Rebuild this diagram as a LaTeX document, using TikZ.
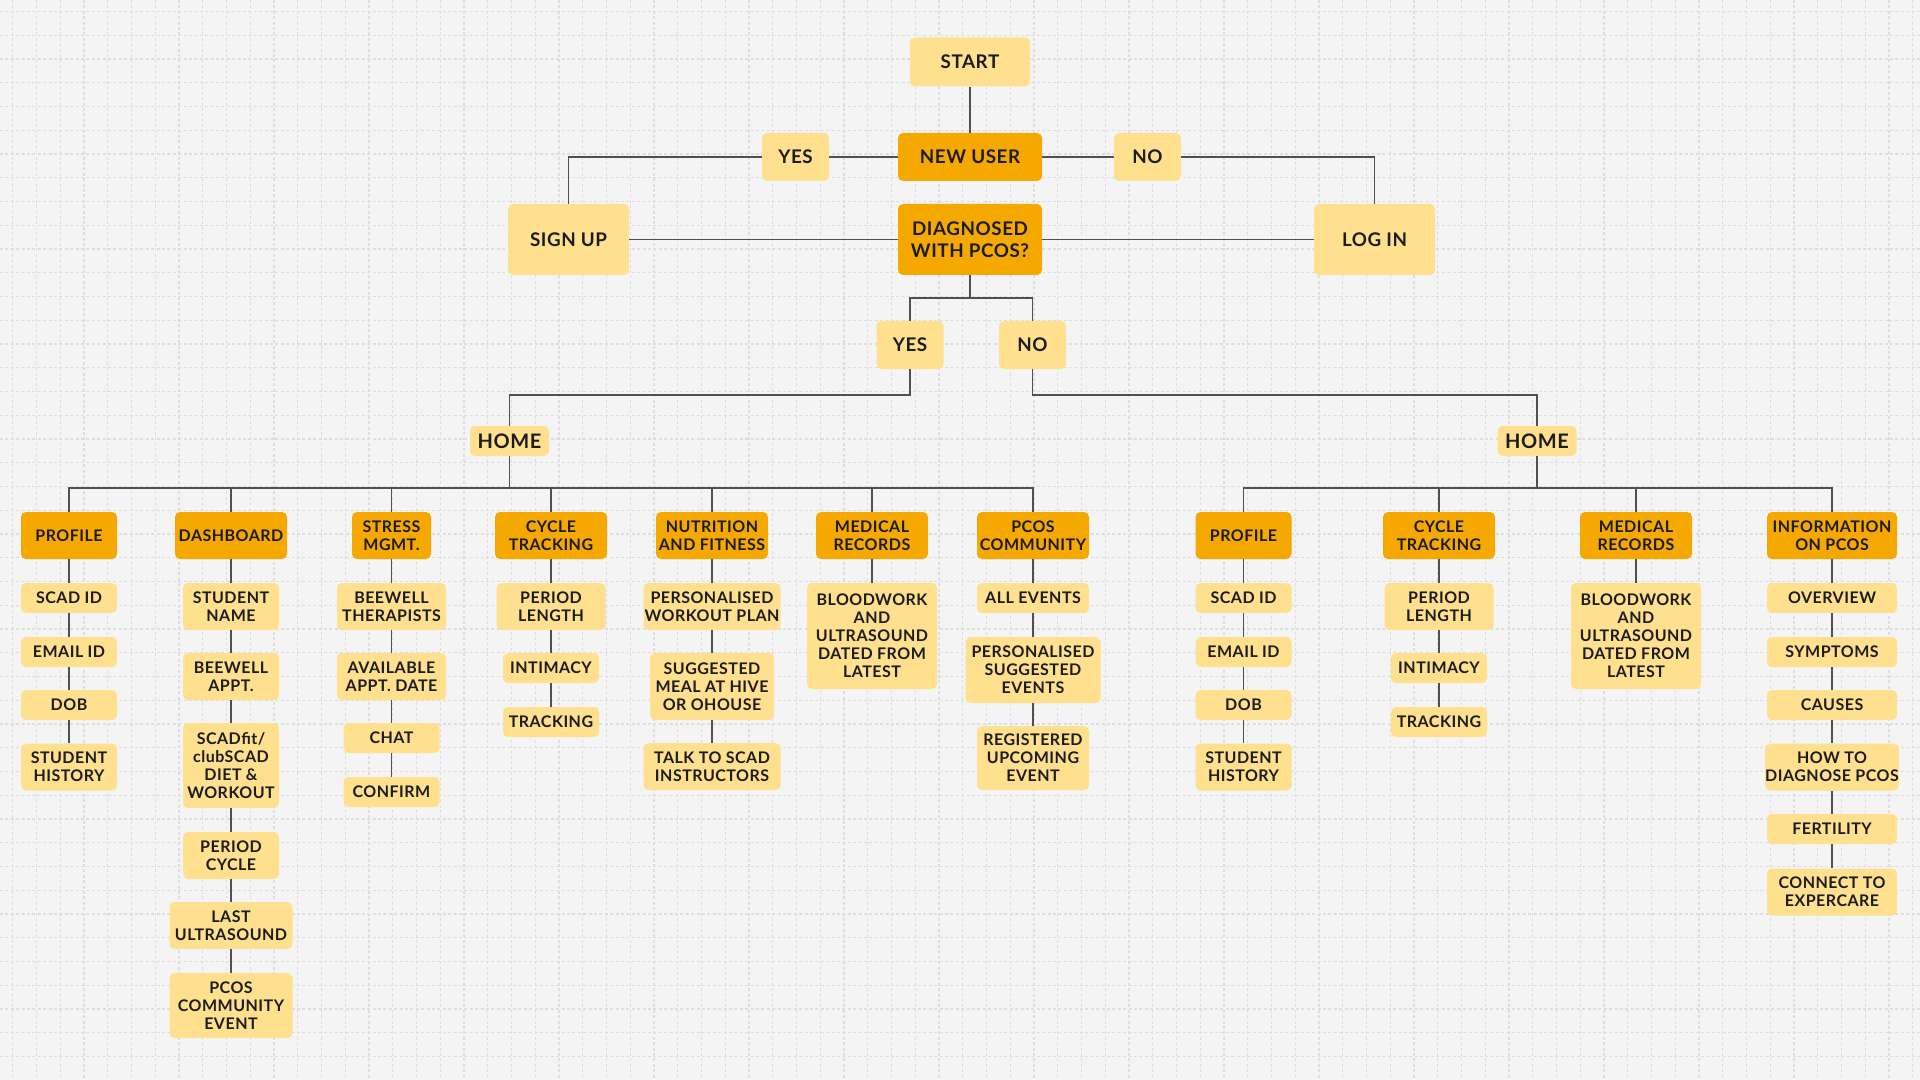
\documentclass[tikz,border=0pt]{standalone}
\usepackage{fontspec}
\setmainfont{Lato}[LetterSpace=3]
\definecolor{bgc}{RGB}{244,244,244}
\definecolor{gridc}{RGB}{222,222,222}
\definecolor{dkor}{RGB}{245,168,0}
\definecolor{ltye}{RGB}{255,224,142}
\definecolor{linec}{RGB}{80,80,80}
\definecolor{txt}{RGB}{28,28,28}
\tikzset{
  box/.style={rounded corners=2.5pt, inner sep=0pt, align=center, text=txt,
    font=\bfseries\fontsize{8}{9}\selectfont},
  dk/.style={box, fill=dkor},
  lt/.style={box, fill=ltye},
  big/.style={font=\bfseries\fontsize{9.4}{11}\selectfont},
  home/.style={font=\bfseries\fontsize{10}{11}\selectfont},
  w/.style={minimum width=#1*0.5pt},
  h/.style={minimum height=#1*0.5pt},
  conn/.style={draw=linec, line width=0.75pt},
  gridline/.style={draw=gridc, line width=0.6pt, dash pattern=on 1.5pt off 1.2pt}
}
\begin{document}
\begin{tikzpicture}[x=0.5pt,y=-0.5pt]
\fill[bgc] (0,0) rectangle (1920,1080);
\useasboundingbox (0,0) rectangle (1920,1080);
\foreach \i in {0,...,80} {\draw[gridline] ({12.75+23.75*\i},0) -- ++(0,1080);}
\foreach \i in {0,...,45} {\draw[gridline] (0,{11.45+23.75*\i}) -- ++(1920,0);}

% top
\node[lt,big,w=120,h=49] (start) at (970,62) {\raisebox{-2pt}{START}};
\node[dk,big,w=144,h=48] (newuser) at (970,157) {NEW USER};
\node[lt,big,w=67,h=48] (yes1) at (795.5,157) {YES};
\node[lt,big,w=67,h=48] (no1) at (1147.5,157) {NO};
\node[lt,big,w=121,h=71] (signup) at (568.5,239.5) {SIGN UP};
\node[dk,big,w=144,h=71] (diag) at (970,239.5) {DIAGNOSED\\WITH PCOS?};
\node[lt,big,w=121,h=71] (login) at (1374.5,239.5) {LOG IN};
\node[lt,big,w=67,h=48] (yes2) at (910,345) {YES};
\node[lt,big,w=67,h=48] (no2) at (1032.5,345) {NO};
\node[lt,home,w=79,h=30] (home1) at (509.5,441) {HOME};
\node[lt,home,w=79,h=30] (home2) at (1537,441) {HOME};

\coordinate (j1) at (970,298);
\coordinate (b1) at (910,395);
\coordinate (b2) at (1032.5,395);
\coordinate (bus1) at (509.5,488);
\coordinate (bus2) at (1537,488);

\draw[conn] (start.south) -- (newuser.north);
\draw[conn] (newuser.west) -- (yes1.east);
\draw[conn] (yes1.west) -| (signup.north);
\draw[conn] (newuser.east) -- (no1.west);
\draw[conn] (no1.east) -| (login.north);
\draw[conn] (signup.east) -- (diag.west);
\draw[conn] (diag.east) -- (login.west);
\draw[conn] (diag.south) -- (j1);
\draw[conn] (yes2.north) |- (j1) -| (no2.north);
\draw[conn] (yes2.south) -- (b1) -| (home1.north);
\draw[conn] (no2.south) -- (b2) -| (home2.north);
\draw[conn] (home1.south) -- (bus1);
\draw[conn] (home2.south) -- (bus2);

% category row
\node[dk,w=96,h=47] (prof1) at (69,535.5) {PROFILE};
\node[dk,w=112,h=47] (dash) at (231,535.5) {DASHBOARD};
\node[dk,w=79,h=47] (stress) at (391.5,535.5) {STRESS\\MGMT.};
\node[dk,w=112,h=47] (cyc1) at (551,535.5) {CYCLE\\TRACKING};
\node[dk,w=112,h=47] (nutr) at (712,535.5) {NUTRITION\\AND FITNESS};
\node[dk,w=112,h=47] (med1) at (872,535.5) {MEDICAL\\RECORDS};
\node[dk,w=112,h=47] (pcos) at (1033,535.5) {PCOS\\COMMUNITY};
\node[dk,w=96,h=47] (prof2) at (1243.5,535.5) {PROFILE};
\node[dk,w=112,h=47] (cyc2) at (1439,535.5) {CYCLE\\TRACKING};
\node[dk,w=112,h=47] (med2) at (1636,535.5) {MEDICAL\\RECORDS};
\node[dk,w=130,h=47] (info) at (1832,535.5) {INFORMATION\\ON PCOS};

\foreach \n in {prof1,dash,stress,cyc1,nutr,med1,pcos} {\draw[conn] (\n.north) |- (bus1);}
\foreach \n in {prof2,cyc2,med2,info} {\draw[conn] (\n.north) |- (bus2);}

% profile columns
\node[lt,w=96,h=30] (scad1) at (69,598) {SCAD ID};
\node[lt,w=96,h=30] (email1) at (69,652) {EMAIL ID};
\node[lt,w=96,h=30] (dob1) at (69,705) {DOB};
\node[lt,w=96,h=47] (hist1) at (69,767) {STUDENT\\HISTORY};
\node[lt,w=96,h=30] (scad2) at (1243.5,598) {SCAD ID};
\node[lt,w=96,h=30] (email2) at (1243.5,652) {EMAIL ID};
\node[lt,w=96,h=30] (dob2) at (1243.5,705) {DOB};
\node[lt,w=96,h=47] (hist2) at (1243.5,767) {STUDENT\\HISTORY};

% dashboard
\node[lt,w=96,h=47] (sname) at (231,606.5) {STUDENT\\NAME};
\node[lt,w=96,h=47] (bappt) at (231,676.5) {BEEWELL\\APPT.};
\node[lt,w=96,h=85] (scadfit) at (231,765.5) {SCADfit/\\clubSCAD\\DIET \&\\WORKOUT};
\node[lt,w=96,h=47] (pcycle) at (231,855.5) {PERIOD\\CYCLE};
\node[lt,w=123,h=47] (lastus) at (231,925.5) {LAST\\ULTRASOUND};
\node[lt,w=123,h=65] (pcevent) at (231,1005.5) {PCOS\\COMMUNITY\\EVENT};

% stress
\node[lt,w=109,h=47] (bther) at (391.5,606.5) {BEEWELL\\THERAPISTS};
\node[lt,w=109,h=47] (avail) at (391.5,676.5) {AVAILABLE\\APPT. DATE};
\node[lt,w=96,h=30] (chat) at (391.5,738) {CHAT};
\node[lt,w=96,h=30] (confirm) at (391.5,792) {CONFIRM};

% cycle tracking
\node[lt,w=109,h=47] (plen1) at (551,606.5) {PERIOD\\LENGTH};
\node[lt,w=96,h=30] (intim1) at (551,668) {INTIMACY};
\node[lt,w=96,h=30] (track1) at (551,722) {TRACKING};
\node[lt,w=109,h=47] (plen2) at (1439,606.5) {PERIOD\\LENGTH};
\node[lt,w=96,h=30] (intim2) at (1439,668) {INTIMACY};
\node[lt,w=96,h=30] (track2) at (1439,722) {TRACKING};

% nutrition
\node[lt,w=137,h=47] (pwp) at (712,606.5) {PERSONALISED\\WORKOUT PLAN};
\node[lt,w=124,h=67] (meal) at (712,686.5) {SUGGESTED\\MEAL AT HIVE\\OR OHOUSE};
\node[lt,w=137,h=47] (talk) at (712,766.5) {TALK TO SCAD\\INSTRUCTORS};

% medical
\node[lt,w=130,h=106] (blood1) at (872,636) {BLOODWORK\\AND\\ULTRASOUND\\DATED FROM\\LATEST};
\node[lt,w=130,h=106] (blood2) at (1636,636) {BLOODWORK\\AND\\ULTRASOUND\\DATED FROM\\LATEST};

% pcos community
\node[lt,w=112,h=30] (allev) at (1033,598) {ALL EVENTS};
\node[lt,w=135,h=66] (psev) at (1033,670) {PERSONALISED\\SUGGESTED\\EVENTS};
\node[lt,w=112,h=64] (regev) at (1033,758) {REGISTERED\\UPCOMING\\EVENT};

% info
\node[lt,w=130,h=30] (over) at (1832,598) {OVERVIEW};
\node[lt,w=130,h=30] (symp) at (1832,652) {SYMPTOMS};
\node[lt,w=130,h=30] (causes) at (1832,705) {CAUSES};
\node[lt,w=130,h=47] (howto) at (1832,767) {HOW TO\\DIAGNOSE PCOS};
\node[lt,w=130,h=30] (fert) at (1832,829) {FERTILITY};
\node[lt,w=130,h=47] (conn) at (1832,892) {CONNECT TO\\EXPERCARE};

% chains
\foreach \a/\b in {prof1/scad1,scad1/email1,email1/dob1,dob1/hist1,
  prof2/scad2,scad2/email2,email2/dob2,dob2/hist2,
  dash/sname,sname/bappt,bappt/scadfit,scadfit/pcycle,pcycle/lastus,lastus/pcevent,
  stress/bther,bther/avail,avail/chat,chat/confirm,
  cyc1/plen1,plen1/intim1,intim1/track1,cyc2/plen2,plen2/intim2,intim2/track2,
  nutr/pwp,pwp/meal,meal/talk,med1/blood1,med2/blood2,
  pcos/allev,allev/psev,psev/regev,
  info/over,over/symp,symp/causes,causes/howto,howto/fert,fert/conn}
  {\draw[conn] (\a.south) -- (\b.north);}
\end{tikzpicture}
\end{document}
